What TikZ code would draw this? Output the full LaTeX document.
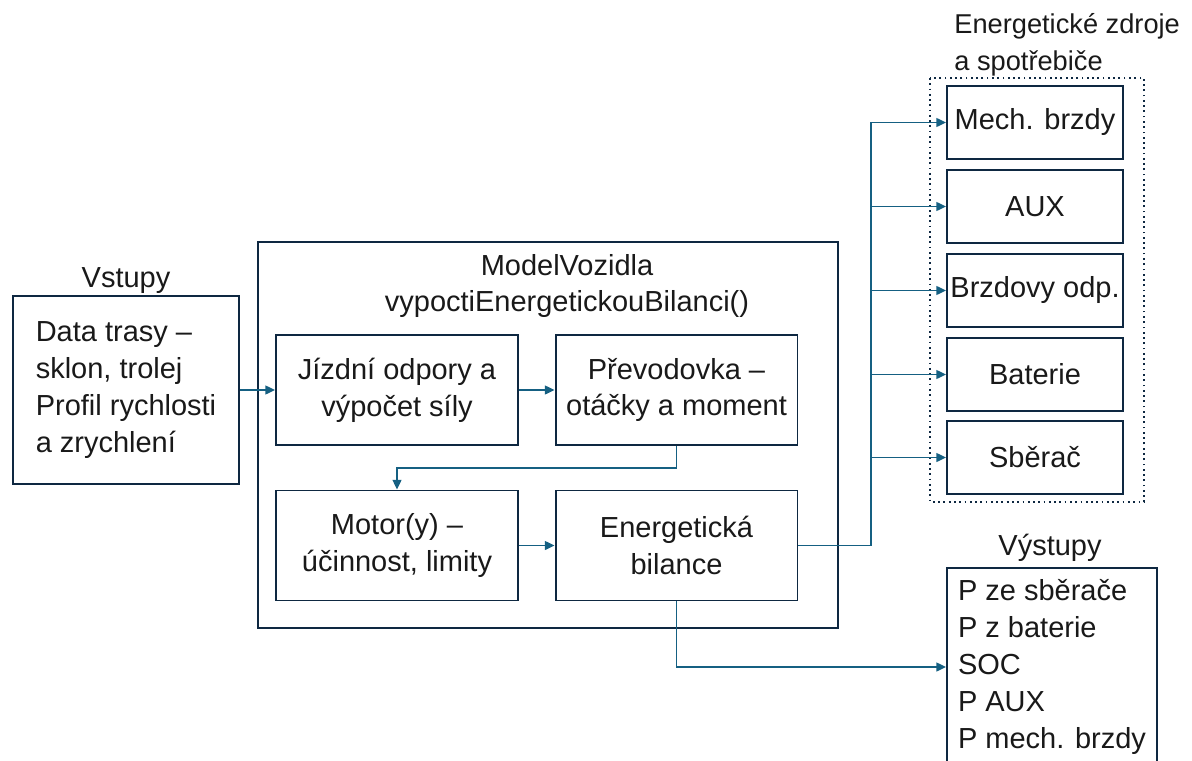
\documentclass[tikz,border=0pt]{standalone}
\usepackage{fontspec}
\setmainfont{Liberation Sans}
\usetikzlibrary{arrows.meta}
\definecolor{rampa}{RGB}{14,40,65}
\definecolor{sipka}{RGB}{21,96,130}

\begin{document}
\begin{tikzpicture}[x=0.02cm, y=-0.02cm,
  nodes={font=\fontsize{16.5}{21}\selectfont, text=black!90},
  blok/.style={draw=rampa, line width=1.1pt, minimum width=4.84cm, minimum height=2.2cm, align=center, inner sep=0},
  zdroj/.style={draw=rampa, line width=1.1pt, minimum width=3.52cm, minimum height=1.46cm, inner sep=0},
  arr/.style={draw=sipka, line width=1pt, -{Triangle[length=5.5pt,width=5pt]}}]
                \useasboundingbox (0,0) rectangle (1192,760);
                \clip (0,0) rectangle (1192,760);

                % vstupy
                \node (vstlbl) at (126,281) {Vstupy};
                \node (vst) [draw=rampa, line width=1.1pt, minimum width=4.52cm, minimum height=3.76cm, align=left, inner sep=0] at (126,390)
                    {Data trasy --\\sklon, trolej\\Profil rychlosti\\a zrychlení};

                % model vozidla
                \node (model) [draw=rampa, line width=1.1pt, minimum width=11.6cm, minimum height=7.72cm] at (548,435) {};
                \node (modellbl) [align=center] at (567,286) {ModelVozidla\\vypoctiEnergetickouBilanci()};
                \node (jizd) [blok] at (397,390) {Jízdní odpory a\\výpočet síly};
                \node (prev) [blok] at (676.5,390) {Převodovka --\\otáčky a moment};
                \node (motor) [blok] at (397,545.5) {Motor(y) --\\účinnost, limity};
                \node (bil) [blok] at (676.5,545.5) {Energetická\\bilance};

                % zdroje a spotrebice
                \node (zdrojlbl) [anchor=west, align=left, inner sep=0, font=\fontsize{15.5}{21}\selectfont] at (954,45) {Energetické zdroje\\a spotřebiče};
                \draw [rampa, dotted, line width=1pt] (930,78) rectangle (1144,502);
                \node (mech) [zdroj] at (1035,122.5) {Mech. brzdy};
                \node (aux) [zdroj] at (1035,206.5) {AUX};
                \node (odp) [zdroj] at (1035,290.5) {Brzdovy odp.};
                \node (bat) [zdroj] at (1035,374.5) {Baterie};
                \node (sber) [zdroj] at (1035,457.5) {Sběrač};

                % vystupy
                \node (vystlbl) at (1050,548) {Výstupy};
                \node (vyst) [draw=rampa, line width=1.1pt, minimum width=4.2cm, minimum height=3.96cm, align=left, inner sep=0] at (1052,667)
                    {P ze sběrače\\P z baterie\\SOC\\P AUX\\P mech. brzdy};

                \draw [arr] (vst) -- (jizd);
                \draw [arr] (jizd) -- (prev);
                \draw [arr] (prev.south) -- ++(0,22) -| (motor.north);
                \draw [arr] (motor) -- (bil);

                \coordinate (bus) at (871,545.5);
                \draw [arr] (bil.east) -- (bus) |- (mech.west);
                \draw [arr] (bus |- aux.west) -- (aux.west);
                \draw [arr] (bus |- odp.west) -- (odp.west);
                \draw [arr] (bus |- bat.west) -- (bat.west);
                \draw [arr] (bus |- sber.west) -- (sber.west);

                \draw [arr] (bil.south) |- (vyst.west);
            \end{tikzpicture}
\end{document}
